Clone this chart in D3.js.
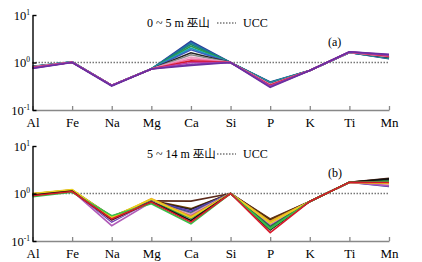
<!DOCTYPE html>
<html>
<head>
<meta charset="utf-8">
<script src="https://cdn.jsdelivr.net/npm/d3@7"></script>
<style>
  body { margin: 0; background: #fff; }
  text { font-family: "Liberation Serif", "DejaVu Serif", serif; }
  .cjk { font-family: "Noto Sans CJK SC", sans-serif; }
</style>
</head>
<body>
<svg id="chart" width="422" height="262"></svg>
<script>
// element order on the x axis
var elements = ["Al", "Fe", "Na", "Mg", "Ca", "Si", "P", "K", "Ti", "Mn"];
var yTicks = [0.1, 1, 10];
var yTickExp = ["-1", "0", "1"];

// panel (a) 0~5 m, UCC-normalised
var colorsA = ["#2b3f9a", "#1f6fa8", "#16857a", "#2e9a4a", "#1aa3b8", "#3b5fc0", "#222222",
               "#888888", "#e7a3c4", "#f06aa0", "#d7192a", "#c03aa0", "#8a3fb5", "#6a2fa0"];
var seriesA = [
  [0.80, 1.02, 0.33, 0.73, 2.80, 1.00, 0.39, 0.68, 1.62, 1.20],
  [0.81, 1.02, 0.33, 0.73, 2.60, 1.00, 0.38, 0.68, 1.62, 1.22],
  [0.82, 1.03, 0.33, 0.74, 2.40, 1.00, 0.38, 0.68, 1.63, 1.24],
  [0.80, 1.02, 0.33, 0.73, 2.20, 1.00, 0.37, 0.68, 1.62, 1.25],
  [0.83, 1.03, 0.33, 0.74, 2.00, 1.00, 0.37, 0.68, 1.63, 1.26],
  [0.82, 1.02, 0.33, 0.73, 1.85, 1.00, 0.36, 0.68, 1.63, 1.28],
  [0.81, 1.02, 0.33, 0.73, 1.60, 1.00, 0.35, 0.68, 1.64, 1.30],
  [0.82, 1.02, 0.33, 0.73, 1.45, 1.00, 0.35, 0.68, 1.64, 1.32],
  [0.80, 1.02, 0.33, 0.73, 1.30, 1.00, 0.34, 0.68, 1.65, 1.34],
  [0.79, 1.01, 0.33, 0.73, 1.18, 1.00, 0.33, 0.68, 1.65, 1.36],
  [0.78, 1.01, 0.33, 0.73, 1.08, 1.00, 0.33, 0.68, 1.66, 1.38],
  [0.77, 1.01, 0.33, 0.73, 1.00, 1.00, 0.32, 0.68, 1.67, 1.42],
  [0.76, 1.01, 0.33, 0.73, 0.92, 1.00, 0.31, 0.68, 1.67, 1.45],
  [0.75, 1.00, 0.32, 0.73, 0.87, 1.00, 0.30, 0.68, 1.68, 1.48]
];

// panel (b) 5~14 m, UCC-normalised
var colorsB = ["#5b2a1a", "#7b3f00", "#222222", "#6a3fb5", "#2b3f9a", "#7a7a7a", "#e7a3c4",
               "#b05ab8", "#1b6e3a", "#2e9a4a", "#f0a020", "#e8d020", "#111111", "#39c04a", "#d7192a"];
var seriesB = [
  [0.98, 1.18, 0.33, 0.70, 0.69, 1.00, 0.29, 0.68, 1.72, 2.10],
  [0.97, 1.17, 0.32, 0.72, 0.48, 1.00, 0.28, 0.68, 1.72, 2.00],
  [0.96, 1.16, 0.31, 0.70, 0.46, 1.00, 0.27, 0.68, 1.72, 1.95],
  [0.95, 1.15, 0.25, 0.69, 0.43, 1.00, 0.25, 0.68, 1.72, 1.50],
  [0.94, 1.14, 0.30, 0.68, 0.40, 1.00, 0.24, 0.68, 1.72, 1.40],
  [0.96, 1.16, 0.29, 0.67, 0.38, 1.00, 0.23, 0.68, 1.72, 1.60],
  [0.95, 1.15, 0.27, 0.67, 0.36, 1.00, 0.22, 0.68, 1.72, 1.55],
  [0.93, 1.13, 0.21, 0.66, 0.34, 1.00, 0.21, 0.68, 1.72, 1.45],
  [0.92, 1.12, 0.30, 0.66, 0.32, 1.00, 0.20, 0.68, 1.72, 1.85],
  [0.91, 1.11, 0.31, 0.65, 0.30, 1.00, 0.19, 0.68, 1.72, 1.80],
  [0.99, 1.20, 0.30, 0.78, 0.33, 1.00, 0.26, 0.68, 1.72, 1.65],
  [1.00, 1.21, 0.32, 0.76, 0.31, 1.00, 0.24, 0.68, 1.72, 1.62],
  [0.93, 1.12, 0.28, 0.67, 0.27, 1.00, 0.17, 0.68, 1.72, 2.05],
  [0.86, 1.06, 0.34, 0.61, 0.23, 1.00, 0.18, 0.68, 1.72, 1.75],
  [0.90, 1.10, 0.29, 0.66, 0.25, 1.00, 0.15, 0.68, 1.72, 1.70]
];

var svg = d3.select("#chart");

function drawPanel(top, series, colors, title, tag) {
  var x = d3.scalePoint().domain(elements).range([32.5, 389]);
  var y = d3.scaleLog().domain([0.1, 10]).range([top + 95, top]);
  var g = svg.append("g");

  // UCC reference line
  g.append("line")
    .attr("x1", x("Al")).attr("x2", x("Mn"))
    .attr("y1", y(1)).attr("y2", y(1))
    .attr("stroke", "#777").attr("stroke-width", 1.3)
    .attr("stroke-dasharray", "1.5,1.5");

  var line = d3.line()
    .x(function(d, i) { return x(elements[i]); })
    .y(function(d) { return y(d); });

  g.selectAll("path.s")
    .data(series)
    .enter().append("path")
    .attr("class", "s")
    .attr("d", line)
    .attr("fill", "none")
    .attr("stroke", function(d, i) { return colors[i]; })
    .attr("stroke-width", 1.6)
    .attr("stroke-linejoin", "miter");

  // bottom axis (grey, ticks pointing up)
  var xAxis = d3.axisBottom(x).tickSizeInner(-4).tickSizeOuter(0).tickPadding(8);
  var gx = g.append("g").attr("transform", "translate(0," + y(0.1) + ")").call(xAxis);
  gx.select(".domain").attr("stroke", "#888").attr("stroke-width", 1.3);
  gx.selectAll(".tick line").attr("stroke", "#888").attr("stroke-width", 1.3);
  gx.selectAll(".tick text").attr("font-size", 13).attr("fill", "#000")
    .attr("font-family", "Liberation Serif, serif");

  // left axis (black)
  var yAxis = d3.axisLeft(y).tickValues(yTicks).tickSizeInner(-4).tickSizeOuter(0).tickFormat("");
  var gy = g.append("g").attr("transform", "translate(" + x("Al") + ",0)").call(yAxis);
  gy.select(".domain").attr("stroke", "#000").attr("stroke-width", 1.4);
  gy.selectAll(".tick line").attr("stroke", "#000").attr("stroke-width", 1.4);

  yTicks.forEach(function(v, i) {
    var t = g.append("text")
      .attr("x", 30).attr("y", y(v) + 4.5)
      .attr("text-anchor", "end")
      .attr("font-size", 12.5).attr("fill", "#000");
    t.append("tspan").text("10");
    t.append("tspan").attr("font-size", 7.5).attr("dy", -5).text(yTickExp[i]);
  });

  // legend
  var lg = g.append("text").attr("x", 147).attr("y", top + 12).attr("font-size", 12).attr("fill", "#000");
  lg.append("tspan").text(title);
  lg.append("tspan").attr("class", "cjk").attr("font-size", 11.5).text("巫山");
  g.append("line")
    .attr("x1", 217).attr("x2", 236)
    .attr("y1", top + 8).attr("y2", top + 8)
    .attr("stroke", "#777").attr("stroke-width", 1.3).attr("stroke-dasharray", "1.5,1.5");
  g.append("text").attr("x", 243).attr("y", top + 12).attr("font-size", 12).attr("fill", "#000").text("UCC");

  g.append("text").attr("x", 328).attr("y", top + 31).attr("font-size", 12).attr("fill", "#000").text(tag);
}

drawPanel(15, seriesA, colorsA, "0 ~ 5 m ", "(a)");
drawPanel(146, seriesB, colorsB, "5 ~ 14 m ", "(b)");
</script>
</body>
</html>
